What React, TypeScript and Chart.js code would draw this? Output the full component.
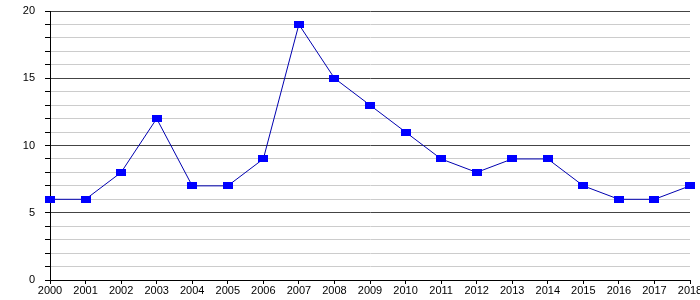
import React, { useEffect, useRef } from "react";
import { Chart, registerables } from "chart.js";

Chart.register(...registerables);

const years = ["2000","2001","2002","2003","2004","2005","2006","2007","2008","2009","2010","2011","2012","2013","2014","2015","2016","2017","2018"];
const values = [6, 6, 8, 12, 7, 7, 9, 19, 15, 13, 11, 9, 8, 9, 9, 7, 6, 6, 7];
const yMajorLabels = [0, 5, 10, 15, 20];

export default function App() {
  const ref = useRef<HTMLCanvasElement | null>(null);
  useEffect(() => {
    document.body.style.margin = "0";
    const marker = document.createElement("canvas");
    marker.width = 10;
    marker.height = 7;
    const mctx = marker.getContext("2d")!;
    mctx.fillStyle = "#0000ff";
    mctx.fillRect(0, 0, 10, 7);

    const font = { family: "'Liberation Sans', Arial, sans-serif", size: 11 };
    const chart = new Chart(ref.current!, {
      type: "line",
      data: {
        labels: years,
        datasets: [
          {
            data: values,
            borderColor: "#0000b0",
            borderWidth: 1,
            pointStyle: marker as any,
            pointRadius: 5,
            tension: 0,
          },
        ],
      },
      options: {
        animation: false,
        responsive: false,
        devicePixelRatio: 1,
        layout: { padding: { top: 11, right: 10, left: 0, bottom: 0 } },
        plugins: { legend: { display: false }, tooltip: { enabled: false } },
        scales: {
          x: {
            type: "category",
            offset: false,
            grid: { drawOnChartArea: false, drawTicks: true, tickLength: 4, tickColor: "#000" },
            border: { color: "#000", width: 1 },
            ticks: { color: "#000", font, padding: 0, maxRotation: 0, autoSkip: false },
            afterFit: (s: any) => {
              s.height = 20;
              s.paddingLeft = 0;
              s.paddingRight = 0;
            },
          },
          y: {
            min: 0,
            max: 20,
            grid: {
              color: (c: any) => (c.tick && c.tick.value % 5 === 0 ? "#444" : "#cccccc"),
              tickColor: "#000",
              tickLength: 5,
            },
            border: { color: "#000", width: 1 },
            ticks: {
              stepSize: 1,
              color: "#000",
              font,
              padding: 10,
              autoSkip: false,
              callback: (v: any) => (yMajorLabels.includes(Number(v)) ? String(v) : ""),
            },
            afterFit: (s: any) => {
              s.width = 50;
              s.paddingTop = 0;
              s.paddingBottom = 0;
            },
          },
        },
      },
    });
    return () => chart.destroy();
  }, []);
  return (
    <div style={{ position: "absolute", left: 0, top: 0, width: 700, height: 300 }}>
      <canvas ref={ref} width={700} height={300} style={{ width: 700, height: 300 }} />
    </div>
  );
}
